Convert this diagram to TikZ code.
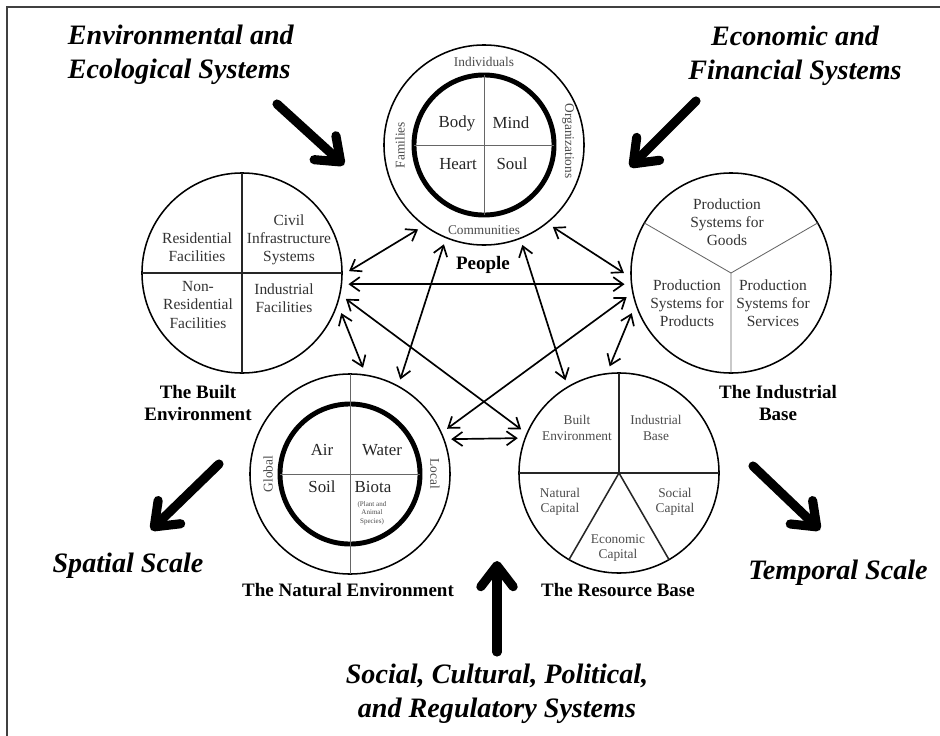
\documentclass[tikz,border=0pt]{standalone}
\usepackage{fontspec}
\setmainfont{Liberation Serif}
\usetikzlibrary{arrows.meta}

\tikzset{
  sphere/.style={circle, draw, line width=1.1pt, minimum size=5cm, inner sep=0pt, outer sep=5pt},
  core/.style={line width=3.5pt},
  split/.style={line width=0.6pt, black!60},
  hardsplit/.style={line width=1.1pt, black!85},
  link/.style={<->, >={Straight Barb[length=7pt,width=10pt]}, line width=1.2pt},
  force/.style={-{Straight Barb[length=15pt,width=23pt,round]}, line width=6.5pt, line cap=round},
  part/.style={font=\fontsize{12}{14}\selectfont, text=black!85},
  ring/.style={font=\fontsize{9.5}{11}\selectfont, text=black!70, inner sep=1pt},
  sector/.style={font=\fontsize{11}{13}\selectfont, text=black!80, align=center},
  subsector/.style={font=\fontsize{9.5}{11}\selectfont, text=black!70, align=center},
  title/.style={font=\fontsize{13.5}{16}\selectfont\bfseries, align=center},
  system/.style={font=\fontsize{20}{24}\selectfont\bfseries\itshape, align=center}
}

\begin{document}
\begin{tikzpicture}[x=0.025cm, y=-0.025cm]
  \useasboundingbox (0,0) rectangle (940,736);
  \fill[white] (0,0) rectangle (940,736);
  \draw[line width=1.3pt, black!75] (7,736) -- (7,7) -- (940,7);

  % the five spheres
  \node[sphere] (people) at (484,145) {};
  \node[sphere] (built) at (242,273) {};
  \node[sphere] (industrial) at (731,273) {};
  \node[sphere] (natural) at (350,474) {};
  \node[sphere] (resource) at (619,473) {};

  % people
  \begin{scope}[shift={(people.center)}]
    \draw[core] (0,0) circle (1.75cm);
    \draw[split] (0,-70) -- (0,70) (-70,0) -- (70,0);
    \node[part] (body) at (-27,-22) {Body};
    \node[part] (mind) at (27,-22) {Mind};
    \node[part] (heart) at (-26,19) {Heart};
    \node[part] (soul) at (28,19) {Soul};
    \node[ring] (individuals) at (0,-83) {Individuals};
    \node[ring, rotate=90] (families) at (-84,0) {Families};
    \node[ring, rotate=-90] (organizations) at (84,-4) {Organizations};
    \node[ring] (communities) at (0,85) {Communities};
  \end{scope}

  % built environment
  \begin{scope}[shift={(built.center)}]
    \draw[hardsplit] (0,-100) -- (0,100) (-100,0) -- (100,0);
    \node[sector] (residential) at (-45,-26) {Residential\\Facilities};
    \node[sector] (civil) at (47,-33) {Civil\\Infrastructure\\Systems};
    \node[sector] (nonres) at (-44,32) {Non-\\Residential\\Facilities};
    \node[sector] (facilities) at (42,25) {Industrial\\Facilities};
  \end{scope}

  % industrial base
  \begin{scope}[shift={(industrial.center)}]
    \draw[split] (0,0) -- (150:2.5cm) (0,0) -- (30:2.5cm) (0,0) -- (270:2.5cm);
    \node[sector] (goods) at (-4,-51) {Production\\Systems for\\Goods};
    \node[sector] (products) at (-44,30) {Production\\Systems for\\Products};
    \node[sector] (services) at (42,30) {Production\\Systems for\\Services};
  \end{scope}

  % natural environment
  \begin{scope}[shift={(natural.center)}]
    \draw[core] (0,0) circle (1.75cm);
    \draw[split] (0,-100) -- (0,100) (-70,0) -- (70,0);
    \node[part] (air) at (-28,-24) {Air};
    \node[part] (water) at (32,-24) {Water};
    \node[part] (soil) at (-28,13) {Soil};
    \node[part] (biota) at (23,13) {Biota};
    \node[font=\fontsize{5}{6}\selectfont, text=black!70, align=center] (species) at (22,39) {(Plant and\\Animal\\Species)};
    \node[ring, rotate=90] (global) at (-82,0) {Global};
    \node[ring, rotate=-90] (local) at (85,0) {Local};
  \end{scope}

  % resource base
  \begin{scope}[shift={(resource.center)}]
    \draw[hardsplit] (0,-100) -- (0,0) (-100,0) -- (100,0) (240:2.5cm) -- (0,0) -- (300:2.5cm);
    \node[subsector] (builtcap) at (-42,-45) {Built\\Environment};
    \node[subsector] (industcap) at (37,-45) {Industrial\\Base};
    \node[subsector] (naturalcap) at (-59,29) {Natural\\Capital};
    \node[subsector] (socialcap) at (56,29) {Social\\Capital};
    \node[subsector] (economiccap) at (-1,75) {Economic\\Capital};
  \end{scope}

  % names
  \node[title] (peoplename) at (483,265) {People};
  \node[title] (builtname) at (198,403) {The Built\\Environment};
  \node[title] (industrialname) at (778,403) {The Industrial\\Base};
  \node[title] (naturalname) at (348,590) {The Natural Environment};
  \node[title] (resourcename) at (618,590) {The Resource Base};

  % links between the spheres
  \draw[link] (people.232) -- (built.1);
  \draw[link] (built.-6) -- (industrial.186);
  \draw[link] (people.310) -- (industrial.180);
  \draw[link] (people.248) -- (natural.62);
  \draw[link] (people.291) -- (resource.120);
  \draw[link] (built.-14) -- (resource.156);
  \draw[link] (industrial.193) -- (natural.25);
  \draw[link] (built.-22) -- (natural.83);
  \draw[link] (industrial.202) -- (resource.95);
  \draw[link] (natural.19) -- (resource.161);

  % outside systems and scales
  \node[system, anchor=west, align=left] (ecosys) at (63,55) {Environmental and\\Ecological Systems};
  \node[system] (econsys) at (795,56) {Economic and\\Financial Systems};
  \node[system] (spatial) at (128,566) {Spatial Scale};
  \node[system] (temporal) at (838,573) {Temporal Scale};
  \node[system] (socialsys) at (497,694) {Social, Cultural, Political,\\and Regulatory Systems};

  \coordinate (ecotail) at (277,104);
  \coordinate (ecotip) at (344,165);
  \coordinate (econtail) at (696,101);
  \coordinate (econtip) at (630,167);
  \coordinate (spatialtail) at (219,464);
  \coordinate (spatialtip) at (151,530);
  \coordinate (temporaltail) at (753,466);
  \coordinate (temporaltip) at (820,530);
  \coordinate (socialtail) at (497,652);
  \coordinate (socialtip) at (497,561);

  \draw[force] (ecotail) -- (ecotip);
  \draw[force] (econtail) -- (econtip);
  \draw[force] (spatialtail) -- (spatialtip);
  \draw[force] (temporaltail) -- (temporaltip);
  \draw[force] (socialtail) -- (socialtip);
\end{tikzpicture}
\end{document}
